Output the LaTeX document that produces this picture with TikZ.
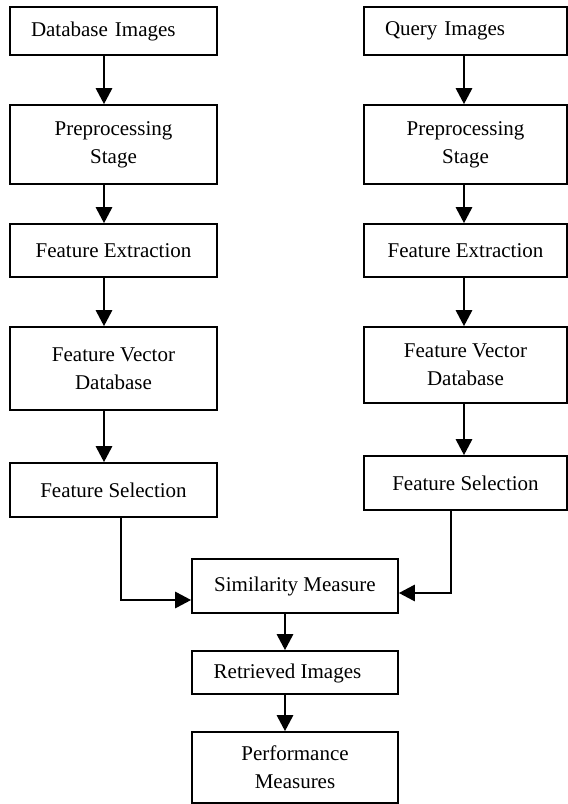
\documentclass[tikz,border=0pt]{standalone}
\usepackage{fontspec}
\setmainfont{Liberation Serif}
\usetikzlibrary{arrows.meta}
\begin{document}
\begin{tikzpicture}[x=1pt,y=-1pt,
  box/.style={draw, line width=1.6pt, inner sep=0pt, align=center,
    font=\fontsize{21}{28}\selectfont},
  lbox/.style={box, align=left, inner xsep=21pt},
  arr/.style={line width=2.8pt, -{Triangle[length=16pt,width=16pt]}}]
\useasboundingbox (0,0) rectangle (568,804);
% left column
\node[lbox, minimum height=48pt, text width=165pt] (db) at (113.5,31) {Database Images};
\node[box, minimum width=207pt, minimum height=79pt] (preL) at (113.5,144.5) {Preprocessing\\Stage};
\node[box, minimum width=207pt, minimum height=53pt] (feL) at (113.5,250.5) {Feature Extraction};
\node[box, minimum width=207pt, minimum height=83pt] (fvdL) at (113.5,368.5) {Feature Vector\\Database};
\node[box, minimum width=207pt, minimum height=54pt] (fsL) at (113.5,490) {Feature Selection};
% right column
\node[lbox, minimum height=48pt, text width=161pt] (q) at (465.5,31) {Query Images};
\node[box, minimum width=203pt, minimum height=79pt] (preR) at (465.5,144.5) {Preprocessing\\Stage};
\node[box, minimum width=203pt, minimum height=53pt] (feR) at (465.5,250.5) {Feature Extraction};
\node[box, minimum width=203pt, minimum height=76pt] (fvdR) at (465.5,365) {Feature Vector\\Database};
\node[box, minimum width=203pt, minimum height=54pt] (fsR) at (465.5,483) {Feature Selection};
% bottom
\node[box, minimum width=206pt, minimum height=54pt] (sim) at (295,586) {Similarity Measure};
\node[box, minimum width=206pt, minimum height=43pt, text depth=2pt] (ret) at (295,672.5) {\hspace*{-15pt}Retrieved Images};
\node[box, minimum width=206pt, minimum height=71pt] (perf) at (295,767.5) {Performance\\Measures};
% coordinates for connector columns
\coordinate (lx) at (104,0);
\coordinate (rx) at (464,0);
\coordinate (lfx) at (121,0);
\coordinate (rfx) at (451,0);
\coordinate (cx) at (285,0);
% left arrows
\draw[arr] (db.south -| lx) -- (preL.north -| lx);
\draw[arr] (preL.south -| lx) -- (feL.north -| lx);
\draw[arr] (feL.south -| lx) -- (fvdL.north -| lx);
\draw[arr] (fvdL.south -| lx) -- (fsL.north -| lx);
% right arrows
\draw[arr] (q.south -| rx) -- (preR.north -| rx);
\draw[arr] (preR.south -| rx) -- (feR.north -| rx);
\draw[arr] (feR.south -| rx) -- (fvdR.north -| rx);
\draw[arr] (fvdR.south -| rx) -- (fsR.north -| rx);
% merge
\draw[arr] (fsL.south -| lfx) |- ([yshift=-14pt]sim.west);
\draw[arr] (fsR.south -| rfx) |- ([yshift=-7pt]sim.east);
\draw[arr] (sim.south -| cx) -- (ret.north -| cx);
\draw[arr] (ret.south -| cx) -- (perf.north -| cx);
\end{tikzpicture}
\end{document}
